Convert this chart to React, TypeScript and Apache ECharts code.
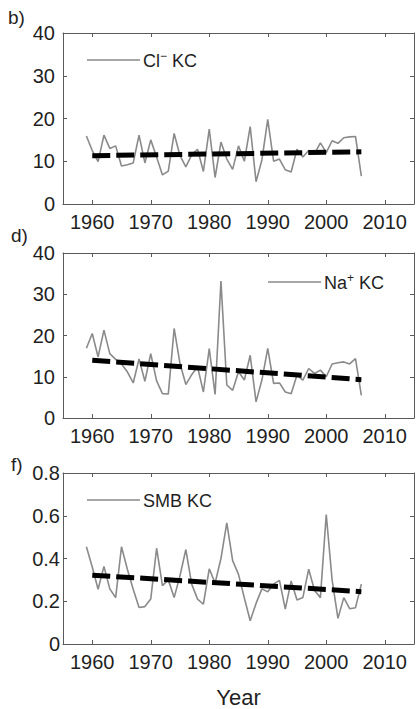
import React, { useEffect, useRef } from "react";
import * as echarts from "echarts";

const years = [
  1959, 1960, 1961, 1962, 1963, 1964, 1965, 1966, 1967, 1968,
  1969, 1970, 1971, 1972, 1973, 1974, 1975, 1976, 1977, 1978,
  1979, 1980, 1981, 1982, 1983, 1984, 1985, 1986, 1987, 1988,
  1989, 1990, 1991, 1992, 1993, 1994, 1995, 1996, 1997, 1998,
  1999, 2000, 2001, 2002, 2003, 2004, 2005, 2006,
];

const clValues = [
  15.9, 12.5, 9.9, 16.1, 13.0, 13.6, 8.9, 9.2, 9.6, 16.1,
  9.6, 15.0, 11.0, 6.8, 7.7, 16.5, 11.3, 8.7, 11.5, 12.8,
  7.6, 17.5, 6.2, 14.5, 10.5, 8.1, 13.6, 10.0, 18.1, 5.2,
  10.3, 19.8, 10.0, 10.5, 8.0, 7.5, 12.8, 11.0, 12.5, 11.8,
  14.3, 12.0, 14.8, 14.2, 15.5, 15.7, 15.8, 6.5,
];

const naValues = [
  16.9, 20.5, 14.8, 21.3, 15.6, 14.2, 13.1, 11.2, 8.5, 14.3,
  8.9, 15.6, 9.0, 5.9, 5.8, 21.7, 13.2, 8.1, 10.5, 12.4,
  6.3, 16.8, 5.7, 33.2, 8.0, 6.7, 11.2, 9.2, 15.2, 3.9,
  9.2, 16.9, 8.4, 8.5, 6.3, 5.9, 10.4, 9.2, 12.0, 10.8,
  11.6, 10.0, 13.1, 13.4, 13.6, 13.1, 14.4, 5.5,
];

const smbValues = [
  0.455, 0.36, 0.256, 0.363, 0.258, 0.217, 0.455, 0.35, 0.256, 0.171,
  0.175, 0.21, 0.448, 0.273, 0.3, 0.217, 0.32, 0.442, 0.28, 0.21,
  0.186, 0.352, 0.285, 0.4, 0.567, 0.39, 0.326, 0.215, 0.109, 0.19,
  0.258, 0.244, 0.28, 0.298, 0.163, 0.295, 0.206, 0.217, 0.35, 0.25,
  0.217, 0.606, 0.3, 0.12, 0.217, 0.165, 0.17, 0.28,
];

const trendYears = [1960, 2006];
const clTrend = [11.3, 12.2];
const naTrend = [14.0, 9.3];
const smbTrend = [0.322, 0.245];

const xTicks = [1960, 1970, 1980, 1990, 2000, 2010];

const FONT = "'Liberation Sans', Arial, sans-serif";
const TEXT = "#1f1f1f";
const AXIS = "#5a5a5a";
const GRAY = "#8a8a8a";

export default function App() {
  const ref = useRef<HTMLDivElement>(null);

  useEffect(() => {
    const chart = echarts.init(ref.current!, null, { renderer: "svg" });

    const panels = [
      {
        key: "cl", letter: "b)", letterTop: 8, letterLeft: 8,
        values: clValues, trend: clTrend, yMin: 0, yMax: 40, yInt: 10,
        grid: { left: 63, top: 33, width: 351, height: 171 },
        legendX: 87, legendY: 60, labelMargin: 8,
        label: "Cl{sup|−} KC",
      },
      {
        key: "na", letter: "d)", letterTop: 226, letterLeft: 11,
        values: naValues, trend: naTrend, yMin: 0, yMax: 40, yInt: 10,
        grid: { left: 63, top: 253, width: 351, height: 165 },
        legendX: 268, legendY: 282, labelMargin: 8,
        label: "Na{sup|+} KC",
      },
      {
        key: "smb", letter: "f)", letterTop: 455, letterLeft: 11,
        values: smbValues, trend: smbTrend, yMin: 0, yMax: 0.8, yInt: 0.2,
        grid: { left: 63, top: 473, width: 351, height: 172 },
        legendX: 87, legendY: 500, labelMargin: 3,
        label: "SMB KC",
      },
    ];

    const grid: any[] = [];
    const xAxis: any[] = [];
    const yAxis: any[] = [];
    const series: any[] = [];
    const graphic: any[] = [];

    panels.forEach((p, i) => {
      grid.push({ ...p.grid, containLabel: false });
      const axisLine = { show: true, onZero: false, lineStyle: { color: AXIS, width: 1 } };
      const tick = { show: true, inside: true, length: 4, lineStyle: { color: AXIS } };
      const isLast = i === panels.length - 1;
      xAxis.push({
        type: "value", gridIndex: i, position: "bottom", min: 1955, max: 2015,
        axisLine,
        axisTick: { ...tick, customValues: xTicks },
        axisLabel: {
          customValues: xTicks, color: TEXT, fontSize: 20, fontFamily: FONT, margin: 8,
          formatter: (v: number) => String(v),
        },
        splitLine: { show: false },
        name: isLast ? "Year" : "",
        nameLocation: "middle",
        nameGap: 42,
        nameTextStyle: { color: TEXT, fontSize: 22, fontFamily: FONT },
      });
      xAxis.push({
        type: "value", gridIndex: i, position: "top", min: 1955, max: 2015,
        axisLine,
        axisTick: { ...tick, customValues: xTicks },
        axisLabel: { show: false },
        splitLine: { show: false },
      });
      yAxis.push({
        type: "value", gridIndex: i, position: "left", min: p.yMin, max: p.yMax, interval: p.yInt,
        axisLine, axisTick: tick,
        axisLabel: { color: TEXT, fontSize: 20, fontFamily: FONT, margin: p.labelMargin },
        splitLine: { show: false },
      });
      yAxis.push({
        type: "value", gridIndex: i, position: "right", min: p.yMin, max: p.yMax, interval: p.yInt,
        axisLine, axisTick: tick,
        axisLabel: { show: false },
        splitLine: { show: false },
      });
      series.push({
        name: p.key, type: "line", xAxisIndex: 2 * i, yAxisIndex: 2 * i,
        data: years.map((y, k) => [y, p.values[k]]),
        showSymbol: false, symbol: "none",
        lineStyle: { color: GRAY, width: 1.6 },
        itemStyle: { color: GRAY },
        z: 2,
      });
      series.push({
        name: p.key + "_trend", type: "line", xAxisIndex: 2 * i, yAxisIndex: 2 * i,
        data: trendYears.map((y, k) => [y, p.trend[k]]),
        showSymbol: false, symbol: "none",
        lineStyle: { color: "#000", width: 5, type: [18, 6] },
        z: 3,
      });
      graphic.push({
        type: "line",
        shape: { x1: p.legendX, y1: p.legendY, x2: p.legendX + 53, y2: p.legendY },
        style: { stroke: GRAY, lineWidth: 1.6 },
        silent: true,
      });
      graphic.push({
        type: "text", x: p.legendX + 56, y: p.legendY + 1,
        style: {
          text: p.label, fontSize: 18, fontFamily: FONT, fill: TEXT,
          verticalAlign: "middle", align: "left", lineHeight: 22,
          rich: { sup: { fontSize: 12, fontFamily: FONT, fill: TEXT, verticalAlign: "top", lineHeight: 12 } },
        },
        silent: true,
      });
      graphic.push({
        type: "text", left: p.letterLeft, top: p.letterTop,
        style: { text: p.letter, fontSize: 19, fontFamily: FONT, fill: TEXT },
      });
    });

    chart.setOption({
      animation: false,
      backgroundColor: "#fff",
      grid, xAxis, yAxis, series, graphic,
    });

    return () => chart.dispose();
  }, []);

  return (
    <div
      ref={ref}
      style={{ position: "fixed", left: 0, top: 0, width: 418, height: 709, background: "#fff" }}
    />
  );
}
